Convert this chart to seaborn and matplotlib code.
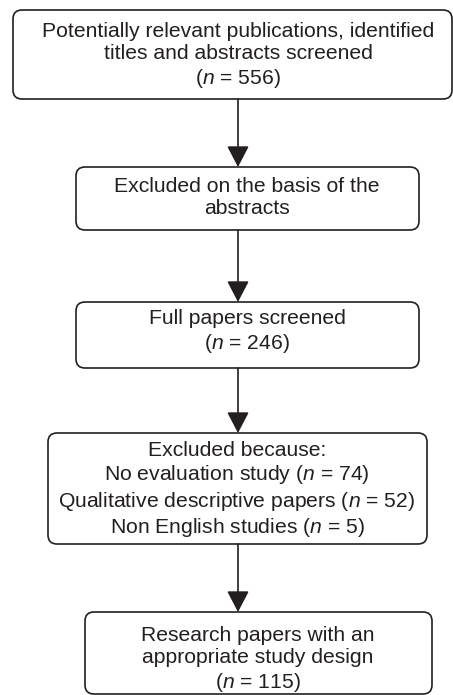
import matplotlib
matplotlib.use("Agg")
import matplotlib.pyplot as plt
from matplotlib.patches import FancyBboxPatch, FancyArrowPatch
import seaborn as sns

# flow chart content
steps = [
    "Potentially relevant publications, identified\ntitles and abstracts screened",
    "Excluded on the basis of the\nabstracts",
    "Full papers screened",
    "Excluded because:",
    "Research papers with an\nappropriate study design",
]
counts = [556, None, 246, None, 115]
reasons = ["No evaluation study", "Qualitative descriptive papers", "Non English studies"]
reason_counts = [74, 52, 5]

# layout in pixels: left, top, right, bottom, text x, text y
boxes = [
    (13, 10, 452, 99, 238, 56),
    (76, 167, 419, 230, 247, 198),
    (76, 302, 419, 368, 247, 332),
    (48, 433, 427, 544, 237, 490),
    (85, 612, 432, 694, 258, 660),
]

sns.set_theme(style="white")
plt.rcParams['font.family'] = ['Liberation Sans', 'DejaVu Sans']
plt.rcParams['mathtext.fontset'] = 'custom'
plt.rcParams['mathtext.rm'] = 'Liberation Sans'
plt.rcParams['mathtext.it'] = 'Liberation Sans:italic'

W, H = 453, 695
fig = plt.figure(figsize=(W / 100, H / 100), dpi=100)
ax = fig.add_axes([0, 0, 1, 1])
ax.set_xlim(0, W)
ax.set_ylim(H, 0)
ax.axis("off")

ink = "#231f20"


def label(i):
    txt = steps[i]
    if i == 3:
        lines = [txt] + [f"{r} ($n$ = {c})" for r, c in zip(reasons, reason_counts)]
        return "\n".join(lines)
    if counts[i] is not None:
        txt += f"\n($n$ = {counts[i]})"
    return txt


for i, (x0, y0, x1, y1, tx, ty) in enumerate(boxes):
    ax.add_patch(FancyBboxPatch((x0, y0), x1 - x0, y1 - y0,
                                boxstyle="round,pad=0,rounding_size=9",
                                fc="white", ec=ink, lw=1.2))
    ax.text(tx, ty, label(i), ha="center", va="center", ma="center",
            fontsize=15.2, color=ink, linespacing=1.2)

# arrows between boxes
for a, b in zip(boxes[:-1], boxes[1:]):
    arr = FancyArrowPatch((238, a[3]), (238, b[1]),
                          arrowstyle="-|>,head_length=0.65,head_width=0.34",
                          mutation_scale=20, shrinkA=0, shrinkB=0,
                          color=ink, lw=1.2)
    ax.add_patch(arr)

fig.savefig("out.png", dpi=100)
